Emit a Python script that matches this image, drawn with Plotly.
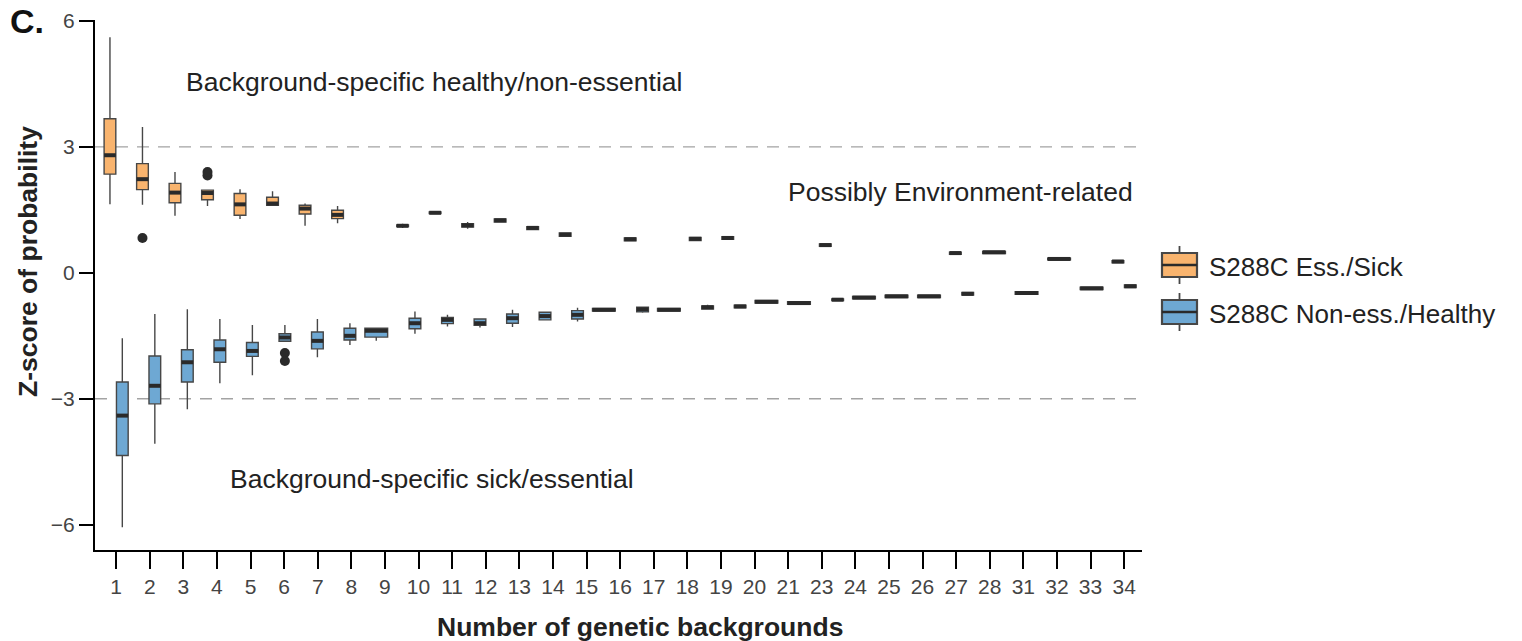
import numpy as np
import plotly.graph_objects as go

# Axis labels along the x axis (number of genetic backgrounds)
tick_labels = ["1", "2", "3", "4", "5", "6", "7", "8", "9", "10", "11", "12", "13",
               "14", "15", "16", "17", "18", "19", "20", "21", "23", "24", "25", "26",
               "27", "28", "31", "32", "33", "34"]
n_slots = 32  # box groups drawn along the axis

# S288C essential / sick genes: group slot and box statistics
ess_slot = [0, 1, 2, 3, 4, 5, 6, 7, 9, 10, 11, 12, 13, 14, 16, 18, 19, 22, 26, 27, 29, 31]
ess_low = [1.63, 1.62, 1.36, 1.59, 1.28, 1.61, 1.12, 1.18, 1.07, 1.41, 1.05, 1.21, 1.03,
           0.87, 0.76, 0.77, 0.80, 0.63, 0.44, 0.46, 0.31, 0.24]
ess_q1 = [2.35, 1.98, 1.67, 1.74, 1.37, 1.61, 1.40, 1.29, 1.10, 1.41, 1.09, 1.21, 1.03,
          0.87, 0.76, 0.77, 0.80, 0.63, 0.44, 0.46, 0.31, 0.24]
ess_med = [2.80, 2.23, 1.91, 1.90, 1.63, 1.65, 1.53, 1.38, 1.12, 1.43, 1.13, 1.25, 1.07,
           0.91, 0.80, 0.81, 0.83, 0.66, 0.47, 0.49, 0.33, 0.27]
ess_q3 = [3.67, 2.60, 2.13, 1.97, 1.89, 1.80, 1.61, 1.49, 1.14, 1.45, 1.17, 1.28, 1.10,
          0.95, 0.83, 0.84, 0.86, 0.69, 0.49, 0.51, 0.35, 0.29]
ess_high = [5.61, 3.47, 2.40, 1.97, 1.99, 1.94, 1.65, 1.59, 1.17, 1.45, 1.21, 1.28, 1.10,
            0.95, 0.83, 0.84, 0.86, 0.69, 0.49, 0.51, 0.35, 0.29]
ess_out_slot = [1, 3, 3]
ess_out_val = [0.83, 2.32, 2.40]

# S288C non-essential / healthy genes
hea_slot = [0, 1, 2, 3, 4, 5, 6, 7, 8, 9, 10, 11, 12, 13, 14, 15, 16, 17, 18, 19, 20,
            21, 22, 23, 24, 25, 26, 28, 30, 31]
hea_low = [-6.06, -4.07, -3.25, -2.63, -2.44, -1.63, -2.01, -1.72, -1.62, -1.45, -1.28,
           -1.30, -1.29, -1.12, -1.16, -0.91, -0.95, -0.91, -0.88, -0.83, -0.72, -0.75,
           -0.67, -0.62, -0.59, -0.59, -0.53, -0.51, -0.40, -0.35]
hea_q1 = [-4.35, -3.12, -2.60, -2.13, -1.99, -1.63, -1.81, -1.60, -1.53, -1.33, -1.21,
          -1.25, -1.20, -1.12, -1.10, -0.91, -0.93, -0.91, -0.86, -0.83, -0.72, -0.75,
          -0.66, -0.62, -0.59, -0.59, -0.53, -0.51, -0.40, -0.35]
hea_med = [-3.40, -2.69, -2.13, -1.82, -1.86, -1.54, -1.62, -1.50, -1.38, -1.20, -1.12,
           -1.20, -1.08, -1.03, -1.00, -0.88, -0.87, -0.88, -0.82, -0.80, -0.69, -0.72,
           -0.64, -0.59, -0.56, -0.56, -0.50, -0.48, -0.37, -0.32]
hea_q3 = [-2.60, -1.98, -1.83, -1.60, -1.66, -1.45, -1.41, -1.32, -1.32, -1.08, -1.06,
          -1.10, -0.98, -0.94, -0.90, -0.85, -0.82, -0.85, -0.79, -0.77, -0.66, -0.69,
          -0.62, -0.56, -0.53, -0.53, -0.47, -0.45, -0.34, -0.29]
hea_high = [-1.56, -0.98, -0.87, -1.10, -1.24, -1.24, -1.10, -1.20, -1.30, -0.92, -1.00,
            -1.10, -0.88, -0.94, -0.83, -0.85, -0.82, -0.85, -0.76, -0.77, -0.66, -0.69,
            -0.62, -0.56, -0.53, -0.53, -0.47, -0.45, -0.34, -0.29]
hea_out_slot = [5, 5]
hea_out_val = [-1.91, -2.10]

series_names = ["S288C Ess./Sick", "S288C Non-ess./Healthy"]

ORANGE = "#F9B46E"
BLUE = "#6EA8D3"
EDGE = "#474747"
MEDIAN = "#2a2a2a"
FONT = "Liberation Sans, Arial, Helvetica, sans-serif"

NARROW_W = 0.36
WIDE_W = 0.70
DODGE = 0.19

# plot-area geometry in pixels (used to place titles and the hand-drawn legend)
ML, MR, MT, MB = 95, 380, 20, 91
W, H = 1522, 641
PW, PH = W - ML - MR, H - MT - MB


def px_x(p):
    return (p - ML) / PW


def px_y(p):
    return (H - MB - p) / PH


fig = go.Figure()


def add_series(name, color, slots, low, q1, med, q3, high, other_slots, side, out_slot, out_val):
    other = set(other_slots)
    groups = {"narrow": [], "wide": []}
    for i, s in enumerate(slots):
        if s in other:
            groups["narrow"].append((s + side * DODGE, i))
        else:
            groups["wide"].append((s, i))
    centres = {}
    for kind, width in (("narrow", NARROW_W), ("wide", WIDE_W)):
        items = groups[kind]
        if not items:
            continue
        xs = [c for c, _ in items]
        idx = [i for _, i in items]
        for c, i in items:
            centres[slots[i]] = (c, width)
        fig.add_trace(go.Box(
            x=xs,
            q1=[q1[i] for i in idx], median=[med[i] for i in idx], q3=[q3[i] for i in idx],
            lowerfence=[low[i] for i in idx], upperfence=[high[i] for i in idx],
            width=width, whiskerwidth=0, boxpoints=False,
            fillcolor=color, line=dict(color=EDGE, width=1.4),
            name=name, showlegend=False, hoverinfo="skip",
        ))
    # heavy median bars
    mx, my = [], []
    for i, s in enumerate(slots):
        c, w = centres[s]
        mx += [c - w / 2, c + w / 2, None]
        my += [med[i], med[i], None]
    fig.add_trace(go.Scatter(x=mx, y=my, mode="lines", line=dict(color=MEDIAN, width=4),
                             showlegend=False, hoverinfo="skip"))
    # outliers
    fig.add_trace(go.Scatter(x=[centres[s][0] for s in out_slot], y=out_val, mode="markers",
                             marker=dict(color=MEDIAN, size=10), showlegend=False,
                             hoverinfo="skip"))


add_series(series_names[0], ORANGE, ess_slot, ess_low, ess_q1, ess_med, ess_q3, ess_high,
           hea_slot, -1, ess_out_slot, ess_out_val)
add_series(series_names[1], BLUE, hea_slot, hea_low, hea_q1, hea_med, hea_q3, hea_high,
           ess_slot, +1, hea_out_slot, hea_out_val)

# z = +/-3 reference lines
for yv in (3, -3):
    fig.add_hline(y=yv, line=dict(color="#a3a3a3", width=1.4, dash="12px,9px"), layer="below")

annot = dict(showarrow=False, font=dict(family=FONT, size=26.5, color="#222222"),
             xanchor="left", yanchor="middle")
fig.add_annotation(x=2.08, y=4.55, text="Background-specific healthy/non-essential", **annot)
fig.add_annotation(x=20.6, y=1.93, text="Possibly Environment-related", **annot)
fig.add_annotation(x=3.43, y=-4.9, text="Background-specific sick/essential", **annot)

paper = dict(xref="paper", yref="paper", showarrow=False)
fig.add_annotation(x=px_x(8), y=px_y(21), text="<b>C.</b>", xanchor="left", yanchor="middle",
                   font=dict(family=FONT, size=34, color="#111111"), **paper)
# axis titles
fig.add_annotation(x=px_x(640), y=px_y(627), text="<b>Number of genetic backgrounds</b>",
                   xanchor="center", yanchor="middle",
                   font=dict(family=FONT, size=26.5, color="#222222"), **paper)
fig.add_annotation(x=px_x(28), y=px_y(262), text="<b>Z-score of probability</b>",
                   textangle=-90, xanchor="center", yanchor="middle",
                   font=dict(family=FONT, size=26.5, color="#222222"), **paper)

# legend drawn as miniature box plots
for k, (name, color) in enumerate(zip(series_names, [ORANGE, BLUE])):
    cy = 265 + 47 * k
    x0, x1 = 1162, 1197
    xc = (x0 + x1) / 2
    fig.add_shape(type="line", xref="paper", yref="paper",
                  x0=px_x(xc), x1=px_x(xc), y0=px_y(cy - 19), y1=px_y(cy + 19),
                  line=dict(color=EDGE, width=1.8))
    fig.add_shape(type="rect", xref="paper", yref="paper",
                  x0=px_x(x0), x1=px_x(x1), y0=px_y(cy - 12), y1=px_y(cy + 12),
                  fillcolor=color, line=dict(color=EDGE, width=2.2))
    fig.add_shape(type="line", xref="paper", yref="paper",
                  x0=px_x(x0), x1=px_x(x1), y0=px_y(cy), y1=px_y(cy),
                  line=dict(color=MEDIAN, width=2.6))
    fig.add_annotation(x=px_x(1207), y=px_y(cy + 2), text=name, xanchor="left",
                       yanchor="middle", font=dict(family=FONT, size=26, color="#222222"),
                       **paper)

fig.update_layout(
    width=W, height=H,
    margin=dict(l=ML, r=MR, t=MT, b=MB, autoexpand=False),
    paper_bgcolor="white", plot_bgcolor="white",
    font=dict(family=FONT, color="#444444"),
    showlegend=False,
    xaxis=dict(
        range=[-0.65, 31.55], tickmode="array",
        tickvals=list(np.linspace(0, n_slots - 1, len(tick_labels))),
        ticktext=tick_labels, automargin=False,
        showline=True, linecolor="black", linewidth=2, mirror=False,
        ticks="outside", ticklen=17, tickwidth=1.5, tickcolor="black",
        tickfont=dict(family=FONT, size=21, color="#444444"),
        showgrid=False, zeroline=False,
    ),
    yaxis=dict(
        range=[-6.6, 6.02], tickmode="array", tickvals=[-6, -3, 0, 3, 6],
        ticktext=["\u22126", "\u22123", "0", "3", "6"], automargin=False,
        showline=True, linecolor="black", linewidth=2,
        ticks="outside", ticklen=14, tickwidth=1.5, tickcolor="black",
        tickfont=dict(family=FONT, size=21, color="#444444"),
        showgrid=False, zeroline=False,
    ),
)

fig.write_html("out.html")
